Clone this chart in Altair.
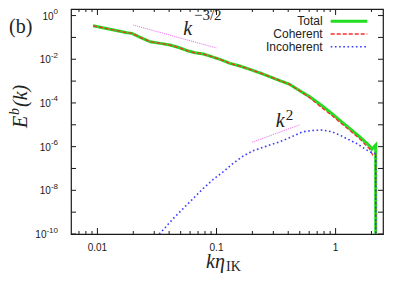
import altair as alt
import pandas as pd

# ---------------- data ----------------
k_total = [0.0092, 0.0177, 0.0195, 0.0229, 0.0278, 0.0337, 0.0408, 0.0489,
           0.0581, 0.0661, 0.0776, 0.0883, 0.107, 0.1297, 0.157, 0.1906, 0.2464,
           0.319, 0.4066, 0.5, 0.606, 0.735, 0.891, 1.08, 1.31, 1.59, 1.93, 2.01,
           2.17, 2.175]
E_total = [0.341, 0.163, 0.153, 0.1005, 0.0632, 0.0534, 0.0447, 0.0336,
           0.0237, 0.0198, 0.0173, 0.0140, 0.00989, 0.00649, 0.00489, 0.00345, 0.00210,
           0.00120, 7.33e-4, 3.62e-4, 1.92e-4, 8.9e-5, 3.96e-5, 1.65e-5, 6.9e-6, 2.84e-6,
           1.07e-6, 7.5e-7, 1.18e-6, 1e-13]

k_coh = [0.0092, 0.0177, 0.0195, 0.0229, 0.0278, 0.0337, 0.0408, 0.0489,
         0.0581, 0.0661, 0.0776, 0.0883, 0.107, 0.1297, 0.157, 0.1906, 0.2464,
         0.319, 0.4066, 0.5, 0.606, 0.735, 0.891, 1.08, 1.31, 1.59, 1.93, 2.05,
         2.17, 2.175]
E_coh = [0.341, 0.163, 0.153, 0.1005, 0.0632, 0.0534, 0.0447, 0.0336,
         0.0237, 0.0198, 0.0173, 0.0140, 0.00989, 0.00649, 0.00489, 0.00345, 0.00210,
         0.00120, 7.33e-4, 3.62e-4, 1.73e-4, 7.2e-5, 3.2e-5, 1.34e-5, 5.6e-6, 2.3e-6,
         7.8e-7, 4.1e-7, 4.5e-7, 1e-13]

k_inc = [0.033, 0.0355, 0.0435, 0.0527, 0.064, 0.0776, 0.094, 0.114, 0.138,
         0.1676, 0.203, 0.263, 0.34, 0.399, 0.53, 0.646, 0.78, 0.93, 1.08, 1.49,
         1.93, 2.08, 2.17, 2.175]
E_inc = [1e-10, 1.52e-10, 5.2e-10, 1.5e-9, 4.3e-9, 1.24e-8, 3.2e-8, 7.1e-8, 1.72e-7,
         3.7e-7, 6.5e-7, 1.06e-6, 1.67e-6, 2.4e-6, 4.8e-6, 5.5e-6, 5.75e-6, 4.8e-6, 3.4e-6,
         1.42e-6, 5.8e-7, 5.1e-7, 4.8e-7, 1e-13]

k_guide_a = [0.02, 0.1]      # k^{-3/2}
E_guide_a = [0.367, 0.0328]
k_guide_b = [0.2, 0.5]       # k^{2}
E_guide_b = [1.6e-6, 1.0e-5]

ann_base_k = [0.0525, 0.315]
ann_base_E = [0.128, 7.9e-6]
ann_base_text = ["k", "k"]
ann_sup_k = [0.0647, 0.382]
ann_sup_E = [0.63, 1.65e-5]
ann_sup_text = ["\u22123/2", "2"]

x_major = [0.01, 0.1, 1]
x_major_labels = ["0.01", "0.1", "1"]
x_minor = [0.007, 0.008, 0.009, 0.02, 0.03, 0.04, 0.05, 0.06, 0.07, 0.08, 0.09,
           0.2, 0.3, 0.4, 0.5, 0.6, 0.7, 0.8, 0.9, 2]
y_decades = [1e-10, 1e-9, 1e-8, 1e-7, 1e-6, 1e-5, 1e-4, 1e-3, 1e-2, 1e-1, 1]
y_label_values = [1e-10, 1e-8, 1e-6, 1e-4, 1e-2, 1]
y_label_base = "10"
y_label_exps = ["-10", "-8", "-6", "-4", "-2", "0"]

legend_names = ["Total", "Coherent", "Incoherent"]
panel_label = "(b)"
ytitle_parts = ["E", "b", "(k)"]
xtitle_parts = ["k\u03b7", "IK"]

# ---------------- layout ----------------
W, H = 312, 225
xscale = alt.Scale(type="log", domain=[0.006, 2.5])
yscale = alt.Scale(type="log", domain=[1e-10, 2])

GREEN = "#22dd22"
RED = "#ff2a2a"
BLUE = "#3a3aff"
PINK = "#f060f0"
INK = "#1a1a1a"


def X(field="k"):
    return alt.X(f"{field}:Q", scale=xscale, axis=None)


def Y(field="E"):
    return alt.Y(f"{field}:Q", scale=yscale, axis=None)


def line_layer(k, E, color, width, dash=None):
    df = pd.DataFrame({"k": k, "E": E})
    kw = dict(color=color, strokeWidth=width, clip=True)
    if dash:
        kw["strokeDash"] = dash
    return alt.Chart(df).mark_line(**kw).encode(x=X(), y=Y())


layers = []
layers.append(line_layer(k_total, E_total, GREEN, 3))
layers.append(line_layer(k_coh, E_coh, RED, 1.3, dash=[4, 2]))
layers.append(line_layer(k_inc, E_inc, BLUE, 1.6, dash=[1.6, 2.6]))
layers.append(line_layer(k_guide_a, E_guide_a, PINK, 1, dash=[1, 1]))
layers.append(line_layer(k_guide_b, E_guide_b, PINK, 1, dash=[1, 1]))

# ticks (inward, mirrored on all four sides)
ydf = pd.DataFrame({"E": y_decades})
for x0, x1 in [(0, 5), (W, W - 5)]:
    layers.append(alt.Chart(ydf).mark_rule(color=INK, strokeWidth=1).encode(
        y=Y(), x=alt.value(x0), x2=alt.value(x1)))
for vals, ln in [(x_major, 6), (x_minor, 3)]:
    xdf = pd.DataFrame({"k": vals})
    for y0, y1 in [(H, H - ln), (0, ln)]:
        layers.append(alt.Chart(xdf).mark_rule(color=INK, strokeWidth=1).encode(
            x=X(), y=alt.value(y0), y2=alt.value(y1)))

# x tick labels
layers.append(alt.Chart(pd.DataFrame({"k": x_major, "t": x_major_labels}))
              .mark_text(font="Liberation Sans", fontSize=10, align="center",
                         baseline="middle", color=INK)
              .encode(x=X(), y=alt.value(H + 14), text="t:N"))

# y tick labels: "10" with a raised exponent
EXP_SIZE = 8
LAB_RIGHT = -13
for v, ex in zip(y_label_values, y_label_exps):
    w = sum(0.333 * EXP_SIZE if ch == "-" else 0.556 * EXP_SIZE for ch in ex)
    d = pd.DataFrame({"E": [v], "b": [y_label_base], "e": [ex]})
    layers.append(alt.Chart(d).mark_text(font="Liberation Sans", fontSize=10, align="right",
                                         baseline="alphabetic", dy=4, color=INK)
                  .encode(y=Y(), x=alt.value(LAB_RIGHT - w), text="b:N"))
    layers.append(alt.Chart(d).mark_text(font="Liberation Sans", fontSize=EXP_SIZE,
                                         align="right", baseline="alphabetic", dy=-1.5,
                                         color=INK)
                  .encode(y=Y(), x=alt.value(LAB_RIGHT), text="e:N"))

# annotations k^{-3/2}, k^2
layers.append(alt.Chart(pd.DataFrame({"k": ann_base_k, "E": ann_base_E, "t": ann_base_text}))
              .mark_text(font="Liberation Serif", fontStyle="italic", fontSize=20,
                         align="left", baseline="alphabetic", color="#222")
              .encode(x=X(), y=Y(), text="t:N"))
layers.append(alt.Chart(pd.DataFrame({"k": ann_sup_k, "E": ann_sup_E, "t": ann_sup_text}))
              .mark_text(font="Liberation Serif", fontSize=15,
                         align="left", baseline="alphabetic", color="#222")
              .encode(x=X(), y=Y(), text="t:N"))

# legend (gnuplot style: label then sample)
leg_styles = [(GREEN, 3, None), (RED, 1.3, [4, 2]), (BLUE, 1.6, [1.6, 2.6])]
for i, (name, (col, wd, dash)) in enumerate(zip(legend_names, leg_styles)):
    yy = 12.3 + 12.7 * i
    ldf = pd.DataFrame({"name": [name]})
    layers.append(alt.Chart(ldf).mark_text(font="Liberation Sans", fontSize=12, align="right",
                                           baseline="middle", color="#222")
                  .encode(text="name:N", x=alt.value(251.7), y=alt.value(yy)))
    kw = dict(color=col, strokeWidth=wd)
    if dash:
        kw["strokeDash"] = dash
    layers.append(alt.Chart(ldf).mark_rule(**kw)
                  .encode(x=alt.value(259.7), x2=alt.value(296.3), y=alt.value(yy)))

# panel label and axis titles
layers.append(alt.Chart(pd.DataFrame({"t": [panel_label]}))
              .mark_text(font="Liberation Serif", fontSize=20, align="left",
                         baseline="alphabetic", color="#222")
              .encode(text="t:N", x=alt.value(-62), y=alt.value(24)))

yt = [(ytitle_parts[0], -44, 119, 20, "italic"),
      (ytitle_parts[1], -52, 106, 14, "italic"),
      (ytitle_parts[2], -44, 98, 20, "italic")]
for txt, xx, yy, fs, st in yt:
    layers.append(alt.Chart(pd.DataFrame({"t": [txt]}))
                  .mark_text(font="Liberation Serif", fontSize=fs, fontStyle=st, angle=270,
                             align="left", baseline="alphabetic", color="#222")
                  .encode(text="t:N", x=alt.value(xx), y=alt.value(yy)))

xt = [(xtitle_parts[0], 135, 259, 20, "italic"),
      (xtitle_parts[1], 155, 262, 14, "normal")]
for txt, xx, yy, fs, st in xt:
    layers.append(alt.Chart(pd.DataFrame({"t": [txt]}))
                  .mark_text(font="Liberation Serif", fontSize=fs, fontStyle=st,
                             align="left", baseline="alphabetic", color="#222")
                  .encode(text="t:N", x=alt.value(xx), y=alt.value(yy)))

chart = alt.layer(*layers).properties(
    width=W, height=H,
    autosize=alt.AutoSizeParams(type="none"),
    padding={"left": 63, "top": 1, "right": 8, "bottom": 40},
).configure_view(stroke=INK, strokeWidth=1.2)

chart.save("out.html", embed_options={"renderer": "svg", "actions": False})
